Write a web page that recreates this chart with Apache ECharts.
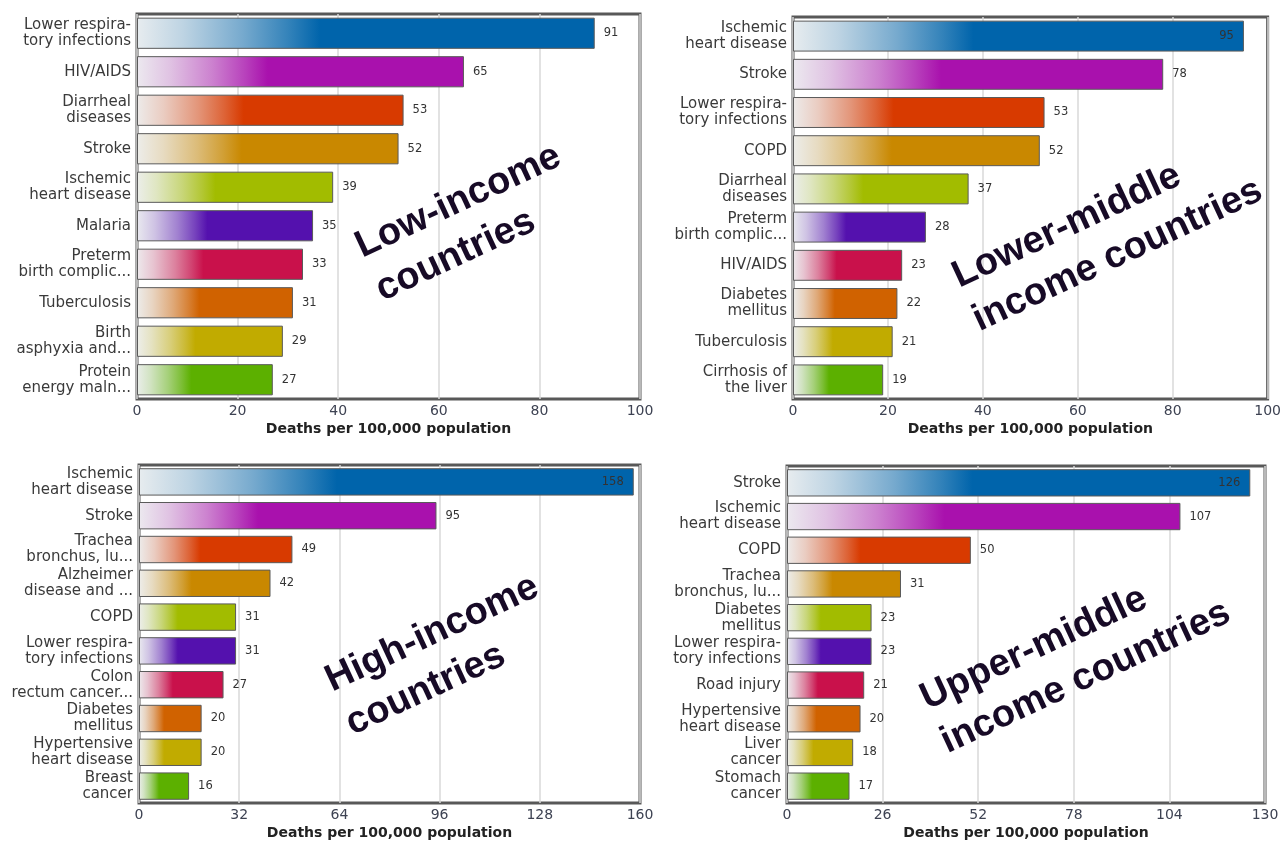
<!DOCTYPE html>
<html>
<head>
<meta charset="utf-8">
<script src="https://cdn.jsdelivr.net/npm/echarts@6/dist/echarts.min.js"></script>
<style>
    html, body {margin: 0; padding: 0; background: #fff;}
    #chartdiv {width: 1284px; height: 841px;}
</style>
</head>
<body>
<div id="chartdiv"></div>
<script>
// data
var lowCats = ['Lower respira-\ntory infections', 'HIV/AIDS', 'Diarrheal\ndiseases', 'Stroke', 'Ischemic\nheart disease',
    'Malaria', 'Preterm\nbirth complic...', 'Tuberculosis', 'Birth\nasphyxia and...', 'Protein\nenergy maln...'];
var lowVals = [91, 65, 53, 52, 39, 35, 33, 31, 29, 27];

var lmCats = ['Ischemic\nheart disease', 'Stroke', 'Lower respira-\ntory infections', 'COPD', 'Diarrheal\ndiseases',
    'Preterm\nbirth complic...', 'HIV/AIDS', 'Diabetes\nmellitus', 'Tuberculosis', 'Cirrhosis of\nthe liver'];
var lmVals = [95, 78, 53, 52, 37, 28, 23, 22, 21, 19];

var highCats = ['Ischemic\nheart disease', 'Stroke', 'Trachea\nbronchus, lu...', 'Alzheimer\ndisease and ...', 'COPD',
    'Lower respira-\ntory infections', 'Colon\nrectum cancer...', 'Diabetes\nmellitus', 'Hypertensive\nheart disease', 'Breast\ncancer'];
var highVals = [158, 95, 49, 42, 31, 31, 27, 20, 20, 16];

var umCats = ['Stroke', 'Ischemic\nheart disease', 'COPD', 'Trachea\nbronchus, lu...', 'Diabetes\nmellitus',
    'Lower respira-\ntory infections', 'Road injury', 'Hypertensive\nheart disease', 'Liver\ncancer', 'Stomach\ncancer'];
var umVals = [126, 107, 50, 31, 23, 23, 21, 20, 18, 17];

var axisMax = [100, 100, 160, 130];
var axisStep = [20, 20, 32, 26];
var overlayText = ['Low-income\ncountries', 'Lower-middle\nincome countries', 'High-income\ncountries', 'Upper-middle\nincome countries'];

var barColors = ['#0064ab', '#a911ad', '#d83a00', '#c98800', '#a2bc00', '#5411ae', '#c9114b', '#d06200', '#c1ab00', '#5cb000'];

var labelFont = '"DejaVu Sans", sans-serif';

function hexRgb(h) {
    return [parseInt(h.substr(1, 2), 16), parseInt(h.substr(3, 2), 16), parseInt(h.substr(5, 2), 16)];
}

function mix(c, t) {
    var a = hexRgb(c);
    var b = [238, 240, 241];
    var r = [];
    for (var i = 0; i < 3; i++) {
        r.push(Math.round(b[i] + (a[i] - b[i]) * t));
    }
    return 'rgb(' + r.join(',') + ')';
}

function barData(vals, max) {
    var out = [];
    for (var i = 0; i < vals.length; i++) {
        var c = barColors[i];
        var inside = vals[i] / max > 0.93;
        out.push({
            value: vals[i],
            itemStyle: {
                color: new echarts.graphic.LinearGradient(0, 0, 1, 0, [
                    {offset: 0, color: mix(c, 0.03)},
                    {offset: 0.1, color: mix(c, 0.2)},
                    {offset: 0.23, color: mix(c, 0.5)},
                    {offset: 0.33, color: mix(c, 0.78)},
                    {offset: 0.4, color: c},
                    {offset: 1, color: c}
                ])
            },
            label: {position: inside ? 'insideRight' : 'right', distance: inside ? 10 : 9}
        });
    }
    return out;
}

var grids = [
    {left: 137, top: 14, width: 503, height: 385},
    {left: 793, top: 17, width: 475, height: 382},
    {left: 139, top: 465, width: 501, height: 339},
    {left: 787, top: 466, width: 478, height: 339}
];
var cats = [lowCats, lmCats, highCats, umCats];
var vals = [lowVals, lmVals, highVals, umVals];
// left-middle anchor of each rotated overlay block
var overlayPos = [[368, 270], [965, 300], [338, 704], [933, 722]];

var dom = document.getElementById("chartdiv");
var myChart = echarts.init(dom, null, {renderer: 'canvas'});

var option = {
    backgroundColor: '#fff',
    animation: false,
    grid: [], xAxis: [], yAxis: [], series: [], graphic: []
};

for (var k = 0; k < 4; k++) {
    option.grid.push({
        left: grids[k].left, top: grids[k].top, width: grids[k].width, height: grids[k].height,
        show: true, borderColor: '#585858', borderWidth: 3, backgroundColor: '#fff', containLabel: false
    });
    option.xAxis.push({
        type: 'value', gridIndex: k, min: 0, max: axisMax[k], interval: axisStep[k],
        name: 'Deaths per 100,000 population', nameLocation: 'middle', nameGap: 23,
        nameTextStyle: {fontFamily: labelFont, fontWeight: 'bold', fontSize: 14, color: '#222'},
        axisLine: {show: false},
        axisTick: {show: false},
        axisLabel: {fontFamily: labelFont, fontSize: 14, color: '#3d4252', margin: 5},
        splitLine: {show: true, lineStyle: {color: '#d9d9d9', width: 1.5}}
    });
    option.yAxis.push({
        type: 'category', gridIndex: k, inverse: true, data: cats[k],
        axisLine: {show: false},
        axisTick: {show: false},
        axisLabel: {fontFamily: labelFont, fontSize: 15, lineHeight: 16, color: '#3a3a3a', margin: 6, align: 'right'}
    });
    option.series.push({
        type: 'bar', xAxisIndex: k, yAxisIndex: k,
        barCategoryGap: '19%',
        data: barData(vals[k], axisMax[k]),
        itemStyle: {borderColor: '#5a5a5a', borderWidth: 1},
        label: {show: true, fontFamily: labelFont, fontSize: 11.5, color: '#333'}
    });
    option.graphic.push({
        type: 'text', x: overlayPos[k][0], y: overlayPos[k][1], rotation: 0.436, z: 100,
        style: {
            text: overlayText[k], fill: '#170a26', align: 'left', verticalAlign: 'middle',
            font: 'bold 38px "Liberation Sans", Arial, sans-serif', lineHeight: 48
        }
    });
}

myChart.setOption(option);
</script>
</body>
</html>
